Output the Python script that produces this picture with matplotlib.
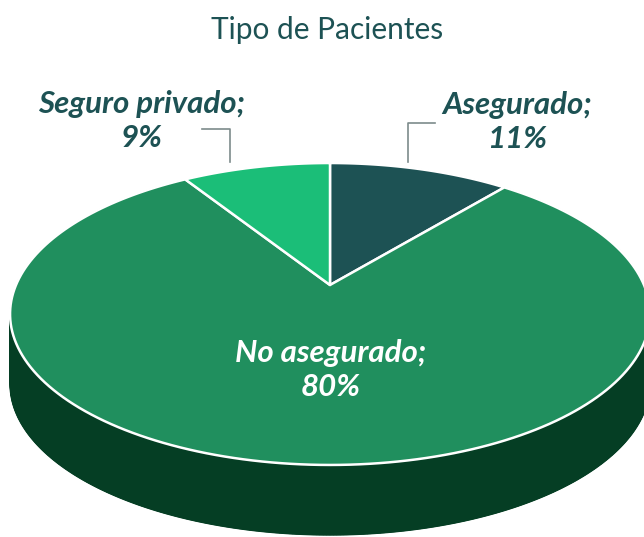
import numpy as np
import matplotlib.pyplot as plt
from matplotlib.patches import Polygon
from matplotlib.collections import PolyCollection

# data
categories = ['Asegurado', 'No asegurado', 'Seguro privado']
shares = [11, 80, 9]
colors = ['#1d5254', '#208f5e', '#1bbe78']
side_color = '#053e24'
text_color = '#1d5254'

# geometry of the tilted disc (pixel space)
cx, cy = 330, 285
R, B, a = 314, 145.4, 0.192
depth = 70


def project(t, drop=0):
    """ t measured clockwise from the back of the disc """
    u = np.sin(t)
    v = -np.cos(t)
    w = 1 - a * v
    return cx + R * u / w, cy + B * v / w + drop


fig = plt.figure(figsize=(6.44, 5.37), dpi=100)
ax = fig.add_axes([0, 0, 1, 1])
ax.set_xlim(0, 644)
ax.set_ylim(537, 0)
ax.axis('off')

# side band
t = np.linspace(0, 2 * np.pi, 721)
xt, yt = project(t)
xb, yb = project(t, depth)
quads = [[(xt[i], yt[i]), (xt[i + 1], yt[i + 1]), (xb[i + 1], yb[i + 1]), (xb[i], yb[i])]
         for i in range(len(t) - 1)]
ax.add_collection(PolyCollection(quads, facecolor=side_color, edgecolor=side_color, lw=0.5))
ax.add_patch(Polygon(np.column_stack([xb, yb]), facecolor=side_color, edgecolor=side_color))

# top face wedges
fracs = np.array(shares) / sum(shares)
starts = np.concatenate([[0], np.cumsum(fracs)[:-1]]) * 2 * np.pi
ends = np.cumsum(fracs) * 2 * np.pi
for s, e, c in zip(starts, ends, colors):
    tt = np.linspace(s, e, 200)
    x, y = project(tt)
    pts = np.column_stack([np.r_[cx, x], np.r_[cy, y]])
    ax.add_patch(Polygon(pts, closed=True, facecolor=c, edgecolor='white', lw=1.8, joinstyle='round'))

# labels
label_font = dict(family='Lato', style='italic', weight='bold', fontsize=22.5,
                  ha='center', va='center', linespacing=1.25)
labels = [f'{c};\n{s}%' for c, s in zip(categories, shares)]
ax.text(517, 122, labels[0], color=text_color, **label_font)
ax.text(331, 370, labels[1], color='white', **label_font)
ax.text(142, 121, labels[2], color=text_color, **label_font)

# leader lines
ax.plot([435, 408, 408], [123, 123, 162], color='#7d8b8b', lw=1.2)
ax.plot([202, 230, 230], [129, 129, 162], color='#7d8b8b', lw=1.2)

ax.text(327, 30, 'Tipo de Pacientes', family='Lato', fontsize=21.5,
        color=text_color, ha='center', va='center')

plt.savefig('out.png', dpi=100)
